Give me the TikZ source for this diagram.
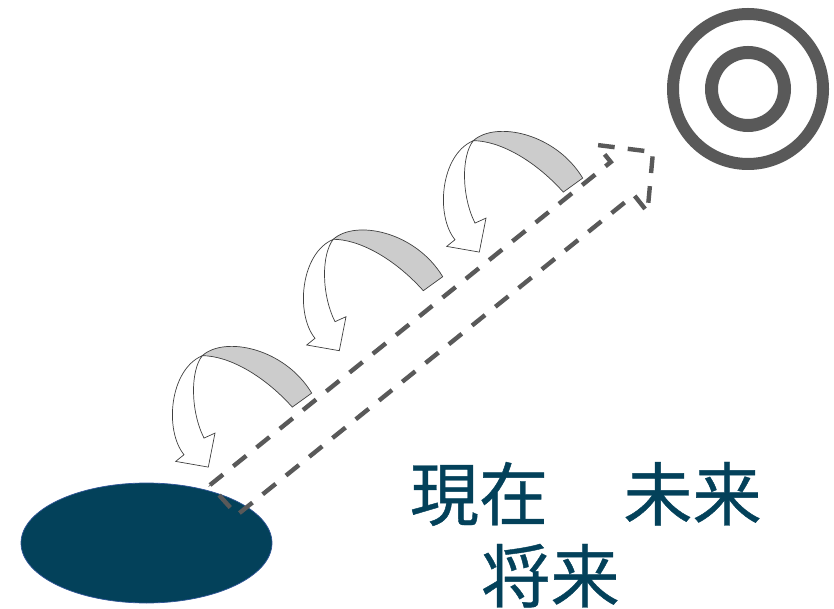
\documentclass[tikz,border=0pt]{standalone}
\usepackage{fontspec}
\newfontfamily\jpfont[FakeBold=0.6]{Noto Sans CJK JP}
\usepackage{xcolor}
\usepackage{tikz}
\definecolor{deepteal}{HTML}{03415A}
\definecolor{markgray}{HTML}{595959}
\definecolor{bandgray}{HTML}{CCCCCC}
\definecolor{rimblue}{HTML}{2F5597}
\tikzset{
  word/.style={text=deepteal, inner sep=0pt, anchor=base, font=\jpfont\fontsize{39.3pt}{47pt}\selectfont},
  pathline/.style={draw=markgray, line width=2.5pt, dash pattern=on 9.5pt off 7.5pt, line join=miter},
  loopface/.style={draw=black!75, line width=0.4pt}
}
\begin{document}
\begin{tikzpicture}[x=0.2mm, y=-0.2mm]
\useasboundingbox (0,0) rectangle (834,609);
\fill[deepteal, draw=rimblue, line width=0.4pt] (146.5,543) ellipse [x radius=125.5, y radius=60];
\draw[pathline] (210,485) -- (610.8,162) -- (597,145) -- (653,152) -- (647.5,212) -- (634,195) -- (237,515) -- cycle;
\foreach \px/\py in {202.3/355.7, 333.3/239.3, 473.3/140.7} {
  \begin{scope}[shift={(\px,\py)}]
    \draw[loopface, fill=bandgray] (0,0) .. controls (22,-20) and (82,-8) .. (109.4,37.4) -- (90,51.4) .. controls (60,18) and (25,0) .. cycle;
    \draw[loopface, fill=white] (0,0) .. controls (-33,14) and (-38,75) .. (-18.3,99) -- (-26.6,105.7) -- (6,111.4) -- (12.7,77.4) -- (1.7,82.4) .. controls (-12,55) and (-12,15) .. cycle;
  \end{scope}
}
\draw[markgray, line width=2.4mm] (748,89) circle [radius=75];
\draw[markgray, line width=2.6mm] (748,89) circle [radius=36.5];
\node[word] (now) at (479,520) {現在};
\node[word] (future) at (692.5,520) {未来};
\node[word] (later) at (550.5,602) {将来};
\end{tikzpicture}
\end{document}
